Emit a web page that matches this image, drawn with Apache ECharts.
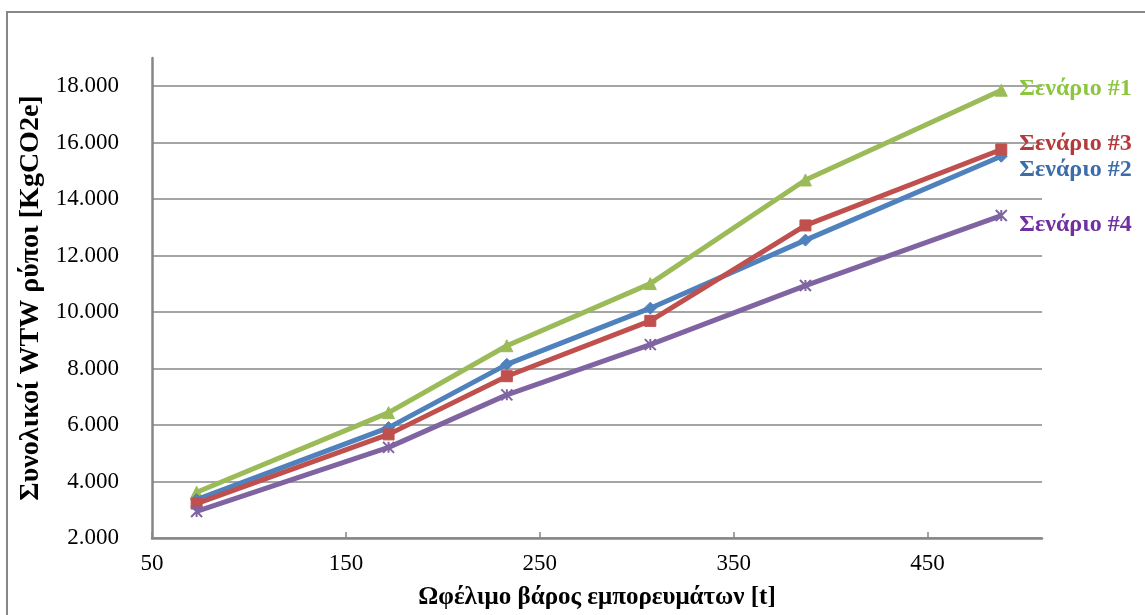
<!DOCTYPE html>
<html>
<head>
<meta charset="utf-8">
<script src="https://cdn.jsdelivr.net/npm/echarts@6/dist/echarts.min.js"></script>
<style>
html,body{margin:0;padding:0;background:#fff;}
#chart{width:1145px;height:615px;}
</style>
</head>
<body>
<div id="chart"></div>
<script>
const seriesNames = ['Σενάριο #1', 'Σενάριο #2', 'Σενάριο #3', 'Σενάριο #4'];
const xValues = [73, 172, 233, 307, 387, 488];
const scenario1 = [3620, 6440, 8810, 11010, 14680, 17860];
const scenario2 = [3360, 5910, 8150, 10140, 12550, 15520];
const scenario3 = [3220, 5670, 7730, 9690, 13070, 15760];
const scenario4 = [2940, 5210, 7070, 8850, 10940, 13420];
const xTickLabels = [50, 150, 250, 350, 450];
const yTickLabels = [2000, 4000, 6000, 8000, 10000, 12000, 14000, 16000, 18000];

const FONT = '"Liberation Serif", "Times New Roman", serif';
const lineColors = ['#9BBB59', '#4F81BD', '#C0504D', '#8064A2'];
const labelColors = ['#8CC63F', '#3C6DA8', '#B33B3B', '#7030A0'];
const symbols = ['triangle', 'diamond', 'rect', 'path://M0,0 L10,10 M10,0 L0,10 M5,0 L5,10'];
const symbolSizes = [12, 12, 11, 11];
const labelOffsets = [[0, -1], [0, 14], [0, -6], [0, 9]];
const allData = [scenario1, scenario2, scenario3, scenario4];

function fmt(v) {
  return String(v).replace(/\B(?=(\d{3})+(?!\d))/g, '.');
}

const chart = echarts.init(document.getElementById('chart'));
chart.setOption({
  animation: false,
  backgroundColor: '#ffffff',
  graphic: [{
    type: 'rect',
    shape: { x: 7, y: 12, width: 1160, height: 640 },
    style: { fill: 'none', stroke: '#878787', lineWidth: 2 },
    silent: true
  }],
  grid: { left: 152, right: 103, top: 58, bottom: 70, containLabel: false },
  xAxis: {
    type: 'value',
    min: 50,
    max: 509,
    interval: 100,
    name: 'Ωφέλιμο βάρος εμπορευμάτων [t]',
    nameLocation: 'middle',
    nameGap: 47,
    nameTextStyle: { fontFamily: FONT, fontSize: 25, fontWeight: 'bold', color: '#000' },
    axisLine: { show: true, lineStyle: { color: '#868686', width: 2.5 } },
    axisTick: { show: true, inside: true, length: 6, customValues: xTickLabels, lineStyle: { color: '#868686', width: 1.5 } },
    axisLabel: { customValues: xTickLabels, fontFamily: FONT, fontSize: 23, color: '#000', margin: 14 },
    splitLine: { show: false }
  },
  yAxis: {
    type: 'value',
    min: 2000,
    max: 19000,
    interval: 2000,
    name: 'Συνολικοί WTW ρύποι [KgCO2e]',
    nameLocation: 'middle',
    nameGap: 104,
    nameRotate: 90,
    nameTextStyle: { fontFamily: FONT, fontSize: 28, fontWeight: 'bold', color: '#000' },
    axisLine: { show: true, lineStyle: { color: '#868686', width: 2.5 } },
    axisTick: { show: false },
    axisLabel: { customValues: yTickLabels, fontFamily: FONT, fontSize: 23, color: '#000', margin: 33, formatter: fmt },
    splitLine: { show: true, showMaxLine: false, lineStyle: { color: '#878787', width: 1.5 } }
  },
  series: seriesNames.map((name, i) => ({
    name: name,
    type: 'line',
    data: xValues.map((x, j) => [x, allData[i][j]]),
    symbol: symbols[i],
    symbolSize: symbolSizes[i],
    showAllSymbol: true,
    lineStyle: { color: lineColors[i], width: 5 },
    itemStyle: i === 3 ? { color: 'none', borderColor: lineColors[i], borderWidth: 2 } : { color: lineColors[i], borderColor: lineColors[i] },
    endLabel: {
      show: true,
      formatter: '{a}',
      distance: 18,
      offset: labelOffsets[i],
      fontFamily: FONT,
      fontSize: 24,
      fontWeight: 'bold',
      color: labelColors[i]
    },
    z: 2 + i
  }))
});
</script>
</body>
</html>
